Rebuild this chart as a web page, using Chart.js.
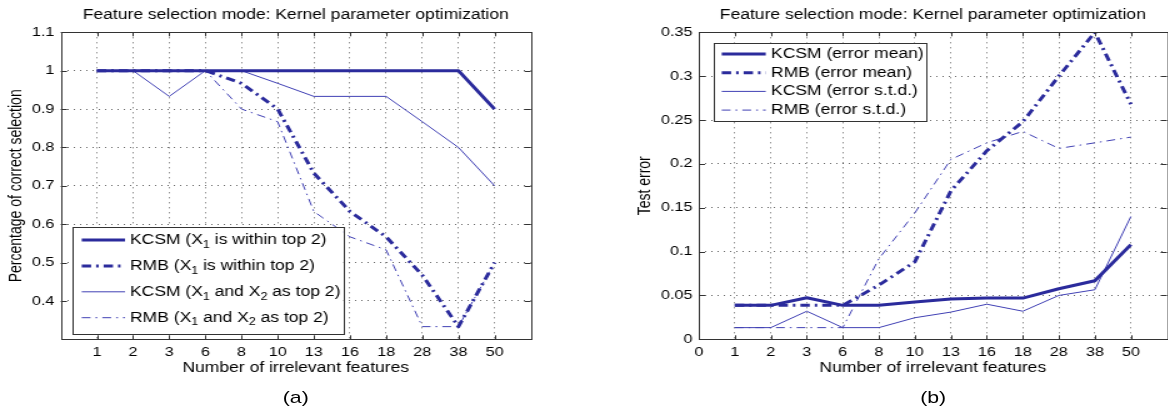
<!DOCTYPE html>
<html>
<head>
<meta charset="utf-8">
<script src="https://cdn.jsdelivr.net/npm/chart.js@4.4.1/dist/chart.umd.min.js"></script>
<style>
  html, body { margin: 0; padding: 0; background: #fff; overflow: hidden; }
  /* the source figure is stretched horizontally, so the whole stage is too */
  #stage { position: absolute; left: 0; top: 0; width: 935px; height: 411px;
           transform: scaleX(1.25); transform-origin: 0 0;
           font-family: 'Liberation Sans', Arial, Helvetica, sans-serif; }
  .panel { position: absolute; top: 0; height: 385px; }
  .caption { position: absolute; top: 388px; width: 60px; margin-left: -30px;
             text-align: center; font-size: 17px; line-height: 20px; color: #000; }
</style>
</head>
<body>
<div id="stage">
  <div class="panel" style="left:0; width:472px;"><canvas id="chartA"></canvas></div>
  <div class="panel" style="left:472px; width:463px;"><canvas id="chartB"></canvas></div>
  <div class="caption" style="left:236.6px;">(a)</div>
  <div class="caption" style="left:746.5px;">(b)</div>
</div>
<script>
// Number of irrelevant features (categories, evenly spaced on the x axis)
const features = [1, 2, 3, 6, 8, 10, 13, 16, 18, 28, 38, 50];

// (a) percentage of correct selection
const kcsmTop2 = [1, 1, 1, 1, 1, 1, 1, 1, 1, 1, 1, 0.9];
const rmbTop2  = [1, 1, 1, 1, 0.967, 0.9, 0.733, 0.633, 0.567, 0.467, 0.333, 0.5];
const kcsmBoth = [1, 1, 0.933, 1, 1, 0.967, 0.933, 0.933, 0.933, 0.867, 0.8, 0.7];
const rmbBoth  = [1, 1, 1, 1, 0.9, 0.867, 0.633, 0.567, 0.533, 0.333, 0.333, 0.5];

// (b) test error
const kcsmMean = [0.0387, 0.0387, 0.0474, 0.0387, 0.0387, 0.0425, 0.046, 0.047, 0.047, 0.0576, 0.0667, 0.108];
const rmbMean  = [0.0387, 0.0387, 0.0387, 0.0387, 0.0618, 0.0883, 0.169, 0.215, 0.248, 0.300, 0.350, 0.268];
const kcsmStd  = [0.0133, 0.0133, 0.032, 0.0133, 0.0133, 0.0246, 0.031, 0.040, 0.032, 0.050, 0.0565, 0.140];
const rmbStd   = [0.0133, 0.0133, 0.0133, 0.0133, 0.0917, 0.144, 0.205, 0.224, 0.237, 0.2176, 0.224, 0.2305];

// tick values
const xTicksA = [1, 2, 3, 4, 5, 6, 7, 8, 9, 10, 11, 12];
const xTicksB = [0, 1, 2, 3, 4, 5, 6, 7, 8, 9, 10, 11, 12];
const yTicksA = [0.4, 0.5, 0.6, 0.7, 0.8, 0.9, 1, 1.1];
const yTicksB = [0, 0.05, 0.1, 0.15, 0.2, 0.25, 0.3, 0.35];

const TITLE = 'Feature selection mode: Kernel parameter optimization';
const XLABEL = 'Number of irrelevant features';

Chart.defaults.font.family = "'Liberation Sans', Arial, Helvetica, sans-serif";
Chart.defaults.color = '#000';

const toPoints = vals => vals.map((v, i) => ({ x: i + 1, y: v }));
const fmt = v => String(Number(v.toFixed(3)));

// line styles
const THICK = '#2b2b9c';
const THIN = '#4040b4';
const DASHDOT_THICK = [7.5, 4, 2, 4];
const DASHDOT_THIN = [7, 4, 1.5, 4];

function lineSet(label, vals, color, width, dash) {
    return {
        label: label,
        data: toPoints(vals),
        borderColor: color,
        backgroundColor: color,
        borderWidth: width,
        borderDash: dash || [],
        pointRadius: 0,
        tension: 0,
        borderJoinStyle: 'round',
        borderCapStyle: 'butt',
        fill: false
    };
}

// Draw text where ₀..₉ become small lowered digits
function drawRichText(ctx, text, x, y, size) {
    const subs = '₀₁₂₃₄₅₆₇₈₉';
    let cx = x;
    for (const ch of text) {
        const k = subs.indexOf(ch);
        if (k >= 0) {
            ctx.font = `${size - 4}px 'Liberation Sans', Arial, sans-serif`;
            ctx.fillText(String(k), cx, y + 5);
            cx += ctx.measureText(String(k)).width;
        } else {
            ctx.font = `${size}px 'Liberation Sans', Arial, sans-serif`;
            ctx.fillText(ch, cx, y);
            cx += ctx.measureText(ch).width;
        }
    }
}

// Box frame, inward ticks and a boxed legend in the plot, MATLAB style
const matlabAxes = {
    id: 'matlabAxes',
    afterDatasetsDraw(chart) {
        const { ctx, chartArea: a, scales: { x, y } } = chart;
        ctx.save();
        ctx.strokeStyle = '#333';
        ctx.lineWidth = 1;
        ctx.setLineDash([]);
        ctx.beginPath();
        x.ticks.forEach(t => {
            const px = Math.round(x.getPixelForValue(t.value)) + 0.5;
            ctx.moveTo(px, a.bottom); ctx.lineTo(px, a.bottom - 4);
            ctx.moveTo(px, a.top); ctx.lineTo(px, a.top + 4);
        });
        y.ticks.forEach(t => {
            const py = Math.round(y.getPixelForValue(t.value)) + 0.5;
            ctx.moveTo(a.left, py); ctx.lineTo(a.left + 5, py);
            ctx.moveTo(a.right, py); ctx.lineTo(a.right - 5, py);
        });
        ctx.stroke();
        ctx.strokeRect(Math.round(a.left) + 0.5, Math.round(a.top) + 0.5,
                       Math.round(a.right - a.left), Math.round(a.bottom - a.top));
        ctx.restore();
    },
    afterDraw(chart, args, opts) {
        const box = opts.box;
        if (!box) return;
        const ctx = chart.ctx;
        ctx.save();
        ctx.fillStyle = '#fff';
        ctx.fillRect(box.x, box.y, box.w, box.h);
        ctx.strokeStyle = '#333';
        ctx.lineWidth = 1;
        ctx.strokeRect(Math.round(box.x) + 0.5, Math.round(box.y) + 0.5, Math.round(box.w), Math.round(box.h));
        chart.data.datasets.forEach((ds, i) => {
            const ry = box.row0 + i * box.rowGap;
            ctx.save();
            ctx.strokeStyle = ds.borderColor;
            ctx.lineWidth = ds.borderWidth;
            ctx.setLineDash(ds.borderDash);
            ctx.beginPath();
            ctx.moveTo(box.lineX1, ry);
            ctx.lineTo(box.lineX2, ry);
            ctx.stroke();
            ctx.restore();
            ctx.fillStyle = '#000';
            ctx.textBaseline = 'middle';
            ctx.textAlign = 'left';
            drawRichText(ctx, ds.label, box.textX, ry, 14);
        });
        ctx.restore();
    }
};

function makeOptions(cfg) {
    return {
        responsive: true,
        maintainAspectRatio: false,
        animation: false,
        events: [],
        layout: { padding: { left: 0, right: cfg.padRight, top: 0, bottom: 0 } },
        plugins: {
            legend: { display: false },
            tooltip: { enabled: false },
            title: {
                display: true,
                text: TITLE,
                fullSize: false,
                font: { size: 14, weight: 'normal' },
                color: '#000',
                padding: { top: 7, bottom: 8.5 }
            },
            matlabAxes: { box: cfg.legendBox }
        },
        scales: {
            x: {
                type: 'linear',
                min: 0,
                max: 13,
                afterBuildTicks: s => { s.ticks = cfg.xTicks.map(v => ({ value: v })); },
                afterFit: s => { s.height = 45.7; },
                ticks: {
                    autoSkip: false,
                    maxRotation: 0,
                    padding: 5,
                    font: { size: 13 },
                    color: '#000',
                    callback: v => (v === 0 ? '0' : String(features[v - 1]))
                },
                grid: { color: 'rgba(0,0,0,0.6)', lineWidth: 1, drawTicks: false },
                border: { display: false, dash: [1, 4] },
                title: {
                    display: true,
                    text: XLABEL,
                    font: { size: 14 },
                    color: '#000',
                    padding: { top: 0, bottom: 8.9 }
                }
            },
            y: {
                type: 'linear',
                min: cfg.yMin,
                max: cfg.yMax,
                afterBuildTicks: s => { s.ticks = cfg.yTicks.map(v => ({ value: v })); },
                afterFit: s => { s.width = cfg.yWidth; },
                ticks: {
                    padding: 5,
                    font: { size: 13 },
                    color: '#000',
                    callback: v => fmt(v)
                },
                grid: { color: 'rgba(0,0,0,0.6)', lineWidth: 1, drawTicks: false },
                border: { display: false, dash: [1, 4] },
                title: {
                    display: true,
                    text: cfg.yLabel,
                    font: { size: 14 },
                    color: '#000',
                    padding: { top: cfg.yTitlePad, bottom: 0 }
                }
            }
        }
    };
}

new Chart(document.getElementById('chartA'), {
    type: 'line',
    data: {
        datasets: [
            lineSet('KCSM (X₁ is within top 2)', kcsmTop2, THICK, 3),
            lineSet('RMB (X₁ is within top 2)', rmbTop2, THICK, 3, DASHDOT_THICK),
            lineSet('KCSM (X₁ and X₂ as top 2)', kcsmBoth, THIN, 1),
            lineSet('RMB (X₁ and X₂ as top 2)', rmbBoth, THIN, 1, DASHDOT_THIN)
        ]
    },
    options: makeOptions({
        xTicks: xTicksA,
        yTicks: yTicksA,
        yMin: 0.3,
        yMax: 1.1,
        yWidth: 48.6,
        yLabel: 'Percentage of correct selection',
        yTitlePad: 5.2,
        padRight: 47.4,
        legendBox: { x: 58.2, y: 227.3, w: 216.5, h: 107, row0: 240, rowGap: 25.9,
                     lineX1: 65.4, lineX2: 100, textX: 104 }
    }),
    plugins: [matlabAxes]
});

new Chart(document.getElementById('chartB'), {
    type: 'line',
    data: {
        datasets: [
            lineSet('KCSM (error mean)', kcsmMean, THICK, 3),
            lineSet('RMB (error mean)', rmbMean, THICK, 3, DASHDOT_THICK),
            lineSet('KCSM (error s.t.d.)', kcsmStd, THIN, 1),
            lineSet('RMB (error s.t.d.)', rmbStd, THIN, 1, DASHDOT_THIN)
        ]
    },
    options: makeOptions({
        xTicks: xTicksB,
        yTicks: yTicksB,
        yMin: 0,
        yMax: 0.35,
        yWidth: 87,
        yLabel: 'Test error',
        yTitlePad: 35.6,
        padRight: 1,
        legendBox: { x: 98.6, y: 42.7, w: 170.2, h: 78.3, row0: 54, rowGap: 18.7,
                     lineX1: 105.4, lineX2: 140.6, textX: 144.8 }
    }),
    plugins: [matlabAxes]
});
</script>
</body>
</html>
